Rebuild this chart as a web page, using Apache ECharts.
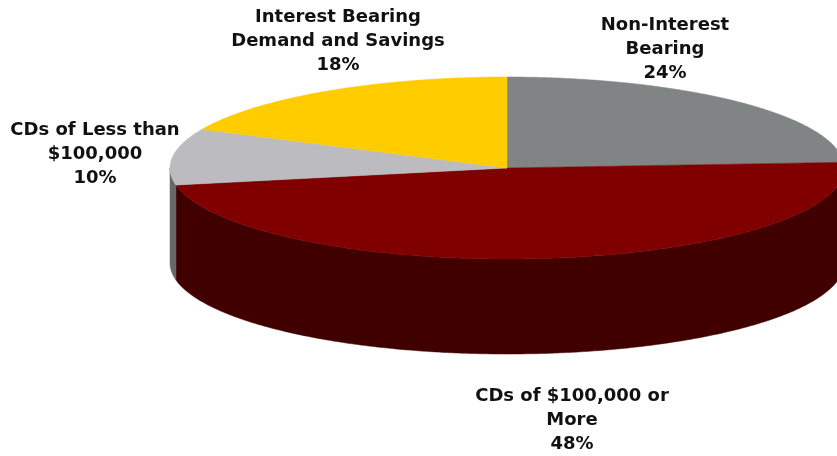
<!DOCTYPE html>
<html>
<head>
<meta charset="utf-8">
<style>html,body{margin:0;padding:0;background:#fff}#c{width:837px;height:456px}</style>
<script src="https://cdn.jsdelivr.net/npm/echarts@6/dist/echarts.min.js"></script>
</head>
<body>
<div id="c"></div>
<script>
const categories = ['Non-Interest\nBearing', 'CDs of $100,000 or\nMore', 'CDs of Less than\n$100,000', 'Interest Bearing\nDemand and Savings'];
const shares = [24, 48, 10, 18];
const topColors = ['#808484', '#800000', '#bcbcc0', '#ffcc00'];
const sideColors = ['#606060', '#400000', '#686868', '#806600'];
const labelCentres = [[665, 25], [572, 396], [95, 130], [338, 17]];

const CX = 507, CY = 168, RX = 337, RY = 91, DEPTH = 95, LINE = 24;
const total = shares.reduce((a, b) => a + b, 0);
const pt = (t, dy) => [CX + RX * Math.sin(t), CY + dy - RY * Math.cos(t)];
function arc(a, b, dy) {
  const out = [], n = Math.max(2, Math.ceil((b - a) / (Math.PI / 360)));
  for (let i = 0; i <= n; i++) out.push(pt(a + (b - a) * i / n, dy));
  return out;
}
function renderItem(params, api) {
  const i = params.dataIndex;
  const before = shares.slice(0, i).reduce((a, b) => a + b, 0);
  const a = before / total * 2 * Math.PI;
  const b = a + api.value(1) / total * 2 * Math.PI;
  const children = [];
  const sa = Math.max(a, Math.PI / 2), sb = Math.min(b, 1.5 * Math.PI);
  if (sb > sa) {
    children.push({
      type: 'polygon',
      shape: { points: arc(sa, sb, 0).concat(arc(sa, sb, DEPTH).reverse()) },
      style: { fill: sideColors[i], stroke: sideColors[i], lineWidth: 0.5 }
    });
  }
  children.push({
    type: 'polygon',
    shape: { points: [[CX, CY]].concat(arc(a, b, 0)) },
    style: { fill: topColors[i], stroke: topColors[i], lineWidth: 0.5 }
  });
  const [lx, ly] = labelCentres[i];
  children.push({
    type: 'text',
    x: lx, y: ly - LINE / 2,
    style: {
      text: categories[i] + '\n' + api.value(1) + '%',
      fill: '#111', align: 'center', verticalAlign: 'top',
      font: 'bold 18px "DejaVu Sans"', lineHeight: LINE
    }
  });
  return { type: 'group', children };
}
const chart = echarts.init(document.getElementById('c'), null, { renderer: 'canvas' });
chart.setOption({
  animation: false,
  backgroundColor: '#fff',
  series: [{
    type: 'custom',
    coordinateSystem: 'none',
    renderItem,
    clip: false,
    data: shares.map((v, i) => [i, v])
  }]
});
</script>
</body>
</html>
